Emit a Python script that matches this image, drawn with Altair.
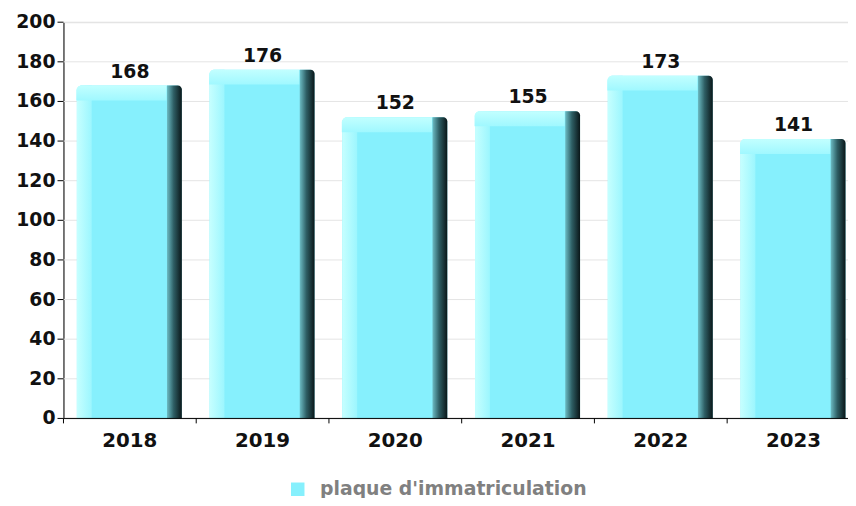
import altair as alt
import pandas as pd

years = ["2018", "2019", "2020", "2021", "2022", "2023"]
values = [168, 176, 152, 155, 173, 141]
series_name = "plaque d'immatriculation"
y_ticks = [0, 20, 40, 60, 80, 100, 120, 140, 160, 180, 200]

df = pd.DataFrame({"year": years, "value": values, "serie": [series_name] * len(years)})
ticks_df = pd.DataFrame({"t": y_ticks})

FONT = "DejaVu Sans"
FACE = "#86F0FD"
PLOT_W = 792

# bands of 134px starting at the y axis; the last band runs past the right edge
xscale = alt.Scale(paddingInner=0, paddingOuter=0, rangeMin=0, rangeMax=804)
xaxis = alt.Axis(title=None, labelAngle=0, domain=False, ticks=False,
                 labelFont=FONT, labelFontSize=20, labelFontWeight="bold",
                 labelColor="#111111", labelPadding=12, grid=False)
x = alt.X("year:N", sort=years, scale=xscale, axis=xaxis)
x_start = alt.X("year:N", sort=years, scale=xscale, bandPosition=0, axis=xaxis)
yscale = alt.Scale(domain=[0, 200], nice=False)
yaxis = alt.Axis(title=None, labels=False, ticks=False, grid=False, domain=True,
                 domainColor="#000000")
y = alt.Y("value:Q", scale=yscale, axis=yaxis)
yt = alt.Y("t:Q", scale=yscale, axis=yaxis)

base = alt.Chart(df)
tbase = alt.Chart(ticks_df)

grid = tbase.mark_rule(color="#e4e4e4", strokeWidth=1).encode(
    y=yt, x=alt.value(0), x2=alt.value(PLOT_W))
ytick = tbase.mark_rule(color="#000000", strokeWidth=1).encode(
    y=yt, x=alt.value(-6), x2=alt.value(0))
ylab = tbase.mark_text(align="right", baseline="middle", font=FONT, fontSize=19,
                       fontWeight="bold", color="#111111").encode(
    y=yt, x=alt.value(-8), text="t:Q")

xdomain = tbase.transform_filter("datum.t == 0").mark_rule(color="#000000", strokeWidth=1).encode(
    y=yt, x=alt.value(0), x2=alt.value(PLOT_W))
xtick = base.mark_rule(color="#000000", strokeWidth=1).encode(
    x=x_start, y=alt.value(400), y2=alt.value(405))

main = base.mark_bar(width=106, xOffset=-0.5, cornerRadiusTopLeft=5, cornerRadiusTopRight=5).encode(
    x=x, y=y, y2=alt.datum(0),
    color=alt.Color("serie:N", scale=alt.Scale(domain=[series_name], range=[FACE]),
                    legend=alt.Legend(title=None, orient="none", legendX=227, legendY=462,
                                      symbolType="square", symbolSize=185, symbolStrokeWidth=0,
                                      labelFont=FONT, labelFontSize=19, labelFontWeight="bold",
                                      labelColor="#808080", labelOffset=13, labelLimit=500,
                                      padding=0)))

left_grad = alt.Gradient(gradient="linear", x1=0, x2=1, y1=0, y2=0,
                         stops=[alt.GradientStop(color="#C6FFFF", offset=0),
                                alt.GradientStop(color="#9CF6FE", offset=1)])
left = base.mark_bar(width=15, xOffset=-46, cornerRadiusTopLeft=5, color=left_grad).encode(
    x=x, y=y, y2=alt.datum(0))

side_grad = alt.Gradient(gradient="linear", x1=0, x2=1, y1=0, y2=0,
                         stops=[alt.GradientStop(color="#6CBCC4", offset=0),
                                alt.GradientStop(color="#2E5E64", offset=0.45),
                                alt.GradientStop(color="#0A1618", offset=1)])
side = base.mark_bar(width=15, xOffset=45, cornerRadiusTopRight=4, color=side_grad).encode(
    x=x, y=y, y2=alt.datum(0))

top_grad = alt.Gradient(gradient="linear", x1=0, x2=0, y1=0, y2=1,
                        stops=[alt.GradientStop(color="#C2FFFF", offset=0),
                               alt.GradientStop(color="#A0F8FF", offset=1)])
top = base.transform_calculate(lower="datum.value - 7.5").mark_bar(
    width=91, xOffset=-8.5, cornerRadiusTopLeft=5, color=top_grad).encode(
    x=x, y=y, y2="lower:Q")

labels = base.mark_text(baseline="bottom", dy=-4, font=FONT, fontSize=19, fontWeight="bold",
                        color="#111111").encode(x=x, y=y, text="value:Q")

chart = alt.layer(grid, main, left, side, top, labels, xdomain, xtick, ytick, ylab).properties(
    width=PLOT_W, height=400,
    autosize=alt.AutoSizeParams(type="none"),
    padding={"left": 56, "top": 12, "right": 0, "bottom": 78},
).configure_view(stroke=None).configure(background="#ffffff")

chart.save("out.html", embed_options={"renderer": "svg", "actions": False})
